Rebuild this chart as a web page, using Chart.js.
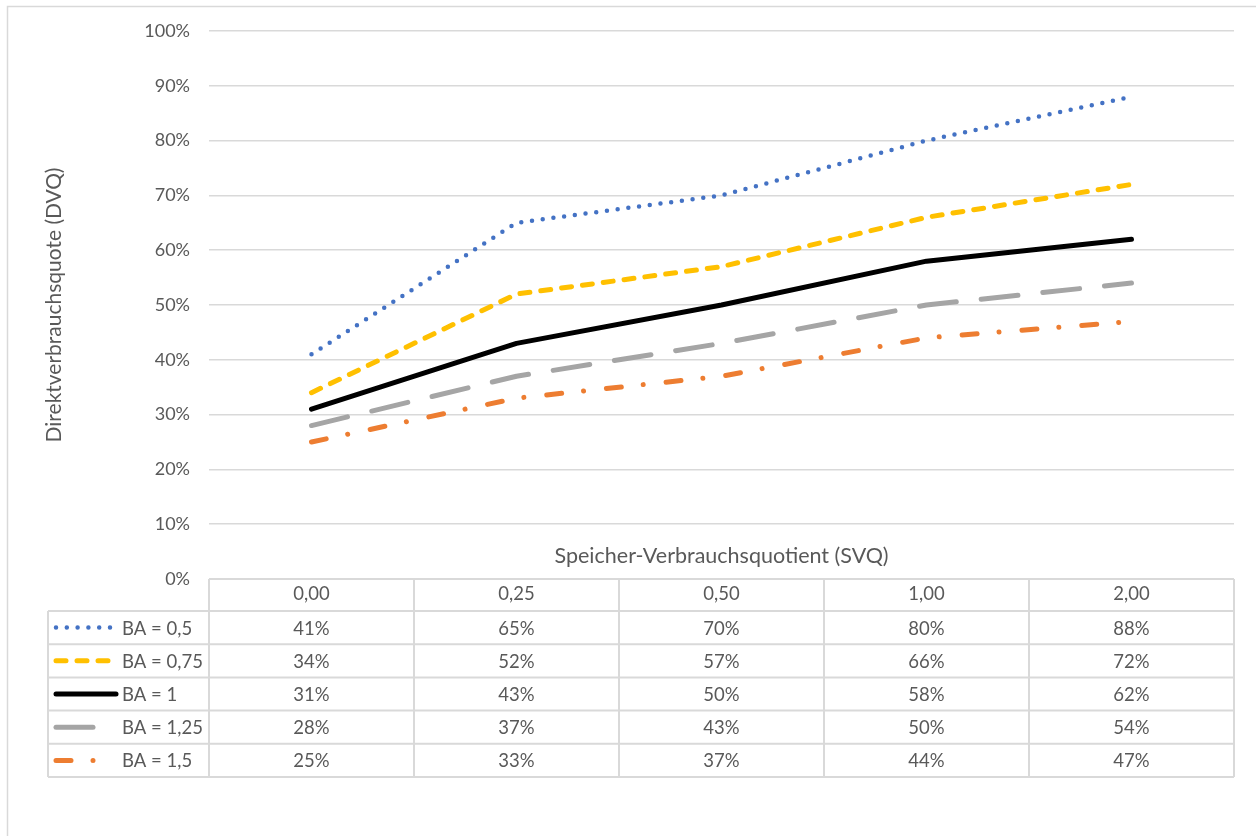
<!DOCTYPE html>
<html>
<head>
<meta charset="utf-8">
<script src="https://cdn.jsdelivr.net/npm/chart.js@4.4.0/dist/chart.umd.min.js"></script>
<style>
  html, body { margin: 0; padding: 0; background: #ffffff; }
  #wrap { width: 1256px; height: 836px; position: relative; }
</style>
</head>
<body>
<div id="wrap"><canvas id="c" width="1256" height="836"></canvas></div>
<script>
// Speicher-Verbrauchsquotient categories
const svqLabels = ['0,00', '0,25', '0,50', '1,00', '2,00'];
const seriesNames = ['BA = 0,5', 'BA = 0,75', 'BA = 1', 'BA = 1,25', 'BA = 1,5'];
// Direktverbrauchsquote in percent
const ba050 = [41, 65, 70, 80, 88];
const ba075 = [34, 52, 57, 66, 72];
const ba100 = [31, 43, 50, 58, 62];
const ba125 = [28, 37, 43, 50, 54];
const ba150 = [25, 33, 37, 44, 47];
const yTicks = [0, 10, 20, 30, 40, 50, 60, 70, 80, 90, 100];

const FONT = 'Lato, "Open Sans", sans-serif';
const TEXT = '#595959';
const GRID = '#D9D9D9';

const styles = [
  { color: '#4472C4', width: 4.5, dash: [0, 10.8] },
  { color: '#FFC000', width: 5, dash: [10, 11] },
  { color: '#000000', width: 5, dash: [] },
  { color: '#A5A5A5', width: 5, dash: [37, 25] },
  { color: '#ED7D31', width: 5, dash: [15, 22, 0.01, 23] }
];
const seriesValues = [ba050, ba075, ba100, ba125, ba150];

const datasets = seriesValues.map((vals, i) => ({
  label: seriesNames[i],
  data: vals,
  borderColor: styles[i].color,
  backgroundColor: styles[i].color,
  borderWidth: styles[i].width,
  borderDash: styles[i].dash,
  borderCapStyle: 'round',
  borderJoinStyle: 'round',
  pointRadius: 0,
  tension: 0,
  fill: false
}));

// Frame, in-plot axis title and the data table beneath the plot
const tablePlugin = {
  id: 'dataTable',
  beforeDraw(chart) {
    const ctx = chart.ctx;
    ctx.save();
    ctx.fillStyle = '#ffffff';
    ctx.fillRect(0, 0, chart.width, chart.height);
    ctx.strokeStyle = GRID;
    ctx.lineWidth = 1.5;
    ctx.beginPath();
    ctx.moveTo(7.5, chart.height + 2);
    ctx.lineTo(7.5, 6.5);
    ctx.lineTo(chart.width + 2, 6.5);
    ctx.stroke();
    ctx.restore();
  },
  afterDraw(chart) {
    const { ctx, chartArea, scales } = chart;
    const x = scales.x;
    const step = x.getPixelForValue(1) - x.getPixelForValue(0);
    const top = chartArea.bottom;
    const headerH = 32;
    const rowH = 33.2;
    const legendLeft = 48;
    const nRows = seriesNames.length;
    const tableBottom = top + headerH + rowH * nRows;

    ctx.save();
    // axis title inside the plot
    ctx.fillStyle = TEXT;
    ctx.font = '21.5px ' + FONT;
    ctx.textAlign = 'center';
    ctx.textBaseline = 'middle';
    ctx.fillText('Speicher-Verbrauchsquotient (SVQ)', (chartArea.left + chartArea.right) / 2, 556);

    // table grid
    ctx.strokeStyle = GRID;
    ctx.lineWidth = 2;
    ctx.beginPath();
    ctx.moveTo(chartArea.left, top);
    ctx.lineTo(chartArea.right, top);
    for (let r = 0; r <= nRows; r++) {
      const yy = top + headerH + r * rowH;
      ctx.moveTo(legendLeft, yy);
      ctx.lineTo(chartArea.right, yy);
    }
    for (let c = 0; c <= svqLabels.length; c++) {
      const xx = x.getPixelForValue(0) - step / 2 + c * step;
      ctx.moveTo(xx, top);
      ctx.lineTo(xx, tableBottom);
    }
    ctx.moveTo(legendLeft, top + headerH);
    ctx.lineTo(legendLeft, tableBottom);
    ctx.stroke();

    // rows: legend key, name, values
    for (let r = 0; r < nRows; r++) {
      const cy = top + headerH + r * rowH + rowH / 2;
      const st = styles[r];
      ctx.save();
      ctx.strokeStyle = st.color;
      ctx.lineWidth = st.width;
      ctx.lineCap = 'round';
      ctx.setLineDash(st.dash);
      ctx.beginPath();
      ctx.moveTo(56, cy);
      ctx.lineTo(116, cy);
      ctx.stroke();
      ctx.restore();

      ctx.fillStyle = TEXT;
      ctx.font = '18.5px ' + FONT;
      ctx.textBaseline = 'middle';
      ctx.textAlign = 'left';
      ctx.fillText(seriesNames[r], 122, cy + 1);
      ctx.textAlign = 'center';
      seriesValues[r].forEach((v, c) => {
        ctx.fillText(v + '%', x.getPixelForValue(c), cy + 1);
      });
    }
    ctx.restore();
  }
};

new Chart(document.getElementById('c'), {
  type: 'line',
  data: { labels: svqLabels, datasets },
  plugins: [tablePlugin],
  options: {
    responsive: false,
    animation: false,
    layout: { padding: { left: 0, top: 31, right: 22, bottom: 0 } },
    plugins: { legend: { display: false }, tooltip: { enabled: false } },
    scales: {
      x: {
        offset: true,
        grid: { display: false, drawTicks: false },
        border: { display: false },
        ticks: { color: TEXT, font: { family: FONT, size: 18.5 }, padding: 4, maxRotation: 0 },
        afterFit(s) { s.height = 257; }
      },
      y: {
        min: 0,
        max: 100,
        afterBuildTicks(s) { s.ticks = yTicks.map(v => ({ value: v })); },
        grid: { color: GRID, lineWidth: 1.5, drawTicks: false },
        border: { display: false },
        ticks: { color: TEXT, font: { family: FONT, size: 18 }, padding: 19, callback: v => v + '%' },
        title: {
          display: true,
          text: 'Direktverbrauchsquote (DVQ)',
          color: TEXT,
          font: { family: FONT, size: 21 },
          padding: { top: 42, bottom: 0 }
        },
        afterFit(s) { s.width = 209; }
      }
    }
  }
});
</script>
</body>
</html>
